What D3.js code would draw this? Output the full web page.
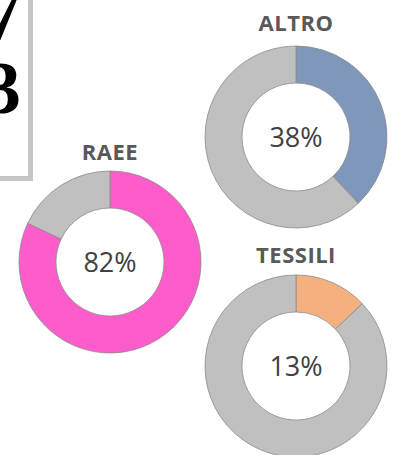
<!DOCTYPE html>
<html>
<head>
<meta charset="utf-8">
<script src="https://cdn.jsdelivr.net/npm/d3@7"></script>
<style>
  html, body { margin: 0; padding: 0; background: #fff; overflow: hidden; }
</style>
</head>
<body>
<div id="chart"></div>
<script>
// share of each category (percent)
const categories = ["RAEE", "ALTRO", "TESSILI"];
const shares = [82, 38, 13];
const colors = ["#ff5ccb", "#7f97ba", "#f5b080"];
const restColor = "#c0c0c0";
// partial text of the cropped box on the left
const boxLines = ["7", "3"];

const width = 411, height = 455;

const svg = d3.select("#chart")
  .append("svg")
  .attr("width", width)
  .attr("height", height);

// cropped box at top left
svg.append("rect")
  .attr("x", -20)
  .attr("y", -20)
  .attr("width", 50.5)
  .attr("height", 198.5)
  .attr("fill", "#fff")
  .attr("stroke", "#c6c6c6")
  .attr("stroke-width", 5);

svg.selectAll("text.box")
  .data(boxLines)
  .enter()
  .append("text")
  .attr("class", "box")
  .attr("x", 21)
  .attr("y", (d, i) => 40 + i * 73)
  .attr("text-anchor", "end")
  .style("font", "bold 74px 'Liberation Serif', serif")
  .attr("fill", "#000")
  .text(d => d);

// donut positions
const layout = [
  {cx: 110, cy: 262, title: 152},
  {cx: 296, cy: 137, title: 23},
  {cx: 296, cy: 366, title: 255}
];

const pie = d3.pie().sort(null).value(d => d);
const arc = d3.arc().innerRadius(54).outerRadius(91);

categories.forEach((name, i) => {
  const pos = layout[i];
  const g = svg.append("g")
    .attr("transform", `translate(${pos.cx},${pos.cy})`);

  g.selectAll("path")
    .data(pie([shares[i], 100 - shares[i]]))
    .enter()
    .append("path")
    .attr("d", arc)
    .attr("fill", (d, j) => j === 0 ? colors[i] : restColor)
    .attr("stroke", "#8a8a8a")
    .attr("stroke-width", 0.8);

  g.append("text")
    .attr("y", 0)
    .attr("dy", "0.36em")
    .attr("text-anchor", "middle")
    .style("font", "27px 'Open Sans', sans-serif")
    .attr("fill", "#404040")
    .text(shares[i] + "%");

  svg.append("text")
    .attr("x", pos.cx)
    .attr("y", pos.title)
    .attr("dy", "0.36em")
    .attr("text-anchor", "middle")
    .style("font", "bold 22px 'Open Sans', sans-serif")
    .style("letter-spacing", "0.5px")
    .attr("fill", "#595959")
    .text(name);
});
</script>
</body>
</html>
